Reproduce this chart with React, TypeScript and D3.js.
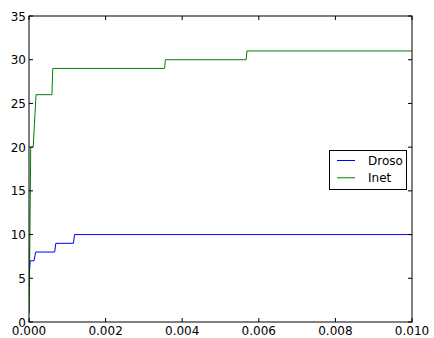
import React from "react";
import * as d3 from "d3";

const drosoX = [0, 0.00003, 0.00013, 0.000175, 0.00067, 0.0007, 0.00116, 0.00119, 0.01];
const drosoY = [5, 7, 7, 8, 8, 9, 9, 10, 10];
const inetX = [0.000005, 0.000045, 0.00011, 0.000183, 0.0006, 0.00062, 0.00354, 0.00356, 0.00567, 0.00569, 0.01];
const inetY = [1, 20, 20, 26, 26, 29, 29, 30, 30, 31, 31];
const xTicks = [0, 0.002, 0.004, 0.006, 0.008, 0.01];
const yTicks = [0, 5, 10, 15, 20, 25, 30, 35];
const seriesNames = ["Droso", "Inet"];
const seriesColors = ["#0000ff", "#008000"];

export default function App() {
  const W = 434, H = 338;
  const L = 29, R = 412, T = 16, B = 322;
  const x = d3.scaleLinear().domain([0, 0.01]).range([L, R]);
  const y = d3.scaleLinear().domain([0, 35]).range([B, T]);
  const line = d3.line<[number, number]>().x(d => x(d[0])).y(d => y(d[1]));
  const series = [
    drosoX.map((v, i) => [v, drosoY[i]] as [number, number]),
    inetX.map((v, i) => [v, inetY[i]] as [number, number]),
  ];
  const font = "DejaVu Sans, sans-serif";
  return (
    <svg width={W} height={H} style={{ position: "absolute", left: 0, top: 0 }}>
      <rect x={0} y={0} width={W} height={H} fill="#fff" />
      <defs>
        <clipPath id="clip"><rect x={L} y={T} width={R - L} height={B - T} /></clipPath>
      </defs>
      <g clipPath="url(#clip)">
        {series.map((s, i) => (
          <path key={i} d={line(s) || ""} fill="none" stroke={seriesColors[i]} strokeWidth={1} />
        ))}
      </g>
      <rect x={L} y={T} width={R - L} height={B - T} fill="none" stroke="#000" strokeWidth={1} />
      {xTicks.map((t, i) => (
        <g key={"x" + i}>
          <line x1={x(t)} x2={x(t)} y1={B} y2={B - 4} stroke="#000" />
          <line x1={x(t)} x2={x(t)} y1={T} y2={T + 4} stroke="#000" />
          <text x={x(t)} y={335} textAnchor="middle" fontFamily={font} fontSize={12}>{t.toFixed(3)}</text>
        </g>
      ))}
      {yTicks.map((t, i) => (
        <g key={"y" + i}>
          <line x1={L} x2={L + 4} y1={y(t)} y2={y(t)} stroke="#000" />
          <line x1={R} x2={R - 4} y1={y(t)} y2={y(t)} stroke="#000" />
          <text x={L - 3} y={y(t) + 4.5} textAnchor="end" fontFamily={font} fontSize={12}>{t}</text>
        </g>
      ))}
      <rect x={329.5} y={150.5} width={77} height={39} fill="#fff" stroke="#000" strokeWidth={1} />
      {seriesNames.map((n, i) => (
        <g key={n}>
          <line x1={337} x2={355} y1={160.5 + i * 17.3} y2={160.5 + i * 17.3} stroke={seriesColors[i]} />
          <text x={368} y={164.5 + i * 17.3} fontFamily={font} fontSize={12}>{n}</text>
        </g>
      ))}
    </svg>
  );
}
